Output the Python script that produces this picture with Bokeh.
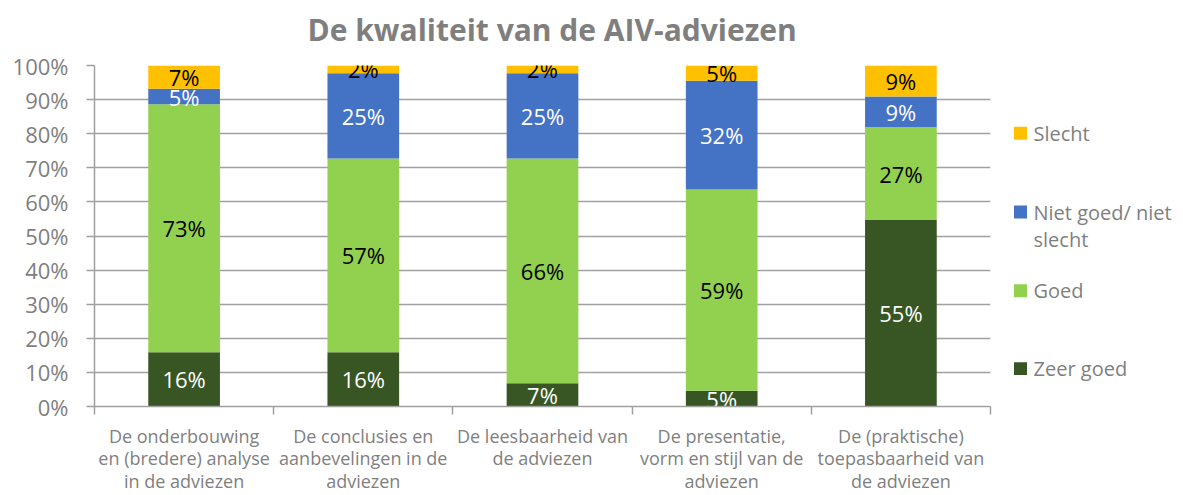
from bokeh.plotting import figure
from bokeh.models import ColumnDataSource, Range1d, FixedTicker, PrintfTickFormatter, LinearAxis
from bokeh.layouts import row
from bokeh.core.properties import value
from bokeh.embed import file_html
from bokeh.resources import INLINE

# ---- data ----
categories = [
    "De onderbouwing\nen (bredere) analyse\nin de adviezen",
    "De conclusies en\naanbevelingen in de\nadviezen",
    "De leesbaarheid van\nde adviezen",
    "De presentatie,\nvorm en stijl van de\nadviezen",
    "De (praktische)\ntoepasbaarheid van\nde adviezen",
]
zeer_goed = [15.9, 15.9, 6.8, 4.6, 54.7]
goed = [72.7, 56.8, 65.9, 59.0, 27.2]
niet_goed = [4.6, 25.0, 25.0, 31.9, 9.0]
slecht = [6.8, 2.3, 2.3, 4.5, 9.1]
y_ticks = [0, 10, 20, 30, 40, 50, 60, 70, 80, 90, 100]
legend_labels = ["Slecht", "Niet goed/ niet\nslecht", "Goed", "Zeer goed"]
title_text = "De kwaliteit van de AIV-adviezen"

colors = ["#375623", "#92D050", "#4472C4", "#FFC000"]
legend_colors = ["#FFC000", "#4472C4", "#92D050", "#375623"]
label_colors = ["white", "black", "white", "black"]
FONT = "Open Sans"
GRAY = "#7f7f7f"
LINE = "#a0a0a0"

# ---- layout geometry (pixels) ----
W_MAIN, W_LEG, H = 993, 190, 495
F_LEFT, F_RIGHT, F_TOP, F_BOTTOM = 94, 990, 65, 407

series = [zeer_goed, goed, niet_goed, slecht]
keys = ["zeer", "goed", "niet", "slecht"]
xs = [i + 0.5 for i in range(len(categories))]

src = ColumnDataSource(dict(x=xs, zeer=zeer_goed, goed=goed, niet=niet_goed, slecht=slecht))

p = figure(width=W_MAIN, height=H, x_range=Range1d(0, len(categories)), y_range=Range1d(0, 100),
           output_backend="svg", toolbar_location=None,
           min_border_left=F_LEFT, min_border_right=W_MAIN - F_RIGHT,
           min_border_top=F_TOP, min_border_bottom=H - F_BOTTOM)
p.outline_line_color = None

p.title.text = title_text
p.title.text_font = FONT
p.title.text_font_size = "30px"
p.title.text_font_style = "bold"
p.title.text_color = GRAY
p.title.align = "left"
p.title.offset = 213
p.title.vertical_align = "bottom"
p.title.standoff = 0

p.vbar_stack(keys, x="x", width=0.4, source=src, color=colors, line_color=None)

# data labels
lx, ly, lt, lc = [], [], [], []
for i in range(len(categories)):
    base = 0.0
    for s, v in enumerate(series):
        val = v[i]
        lx.append(xs[i])
        ly.append(base + val / 2)
        lt.append("%d%%" % int(val + 0.5))
        lc.append(label_colors[s])
        base += val
p.text(x=lx, y=ly, text=lt, text_color=lc, text_align="center", text_baseline="middle",
       text_font=value(FONT), text_font_size="22px")

# y axis
yax = p.left[0]
yax.ticker = FixedTicker(ticks=y_ticks)
yax.formatter = PrintfTickFormatter(format="%d%%")
yax.major_label_text_font = FONT
yax.major_label_text_font_size = "22px"
yax.major_label_text_color = GRAY
yax.major_tick_out = 8
yax.major_tick_in = 0
yax.minor_tick_out = 0
yax.minor_tick_in = 0
yax.axis_line_color = LINE
yax.axis_line_width = 1.5
yax.major_tick_line_color = LINE
yax.major_tick_line_width = 1.5
yax.major_label_standoff = 18

# x axis (labels at category centres, ticks at category boundaries)
xax = p.below[0]
xax.ticker = FixedTicker(ticks=xs, minor_ticks=list(range(len(categories) + 1)))
xax.major_label_overrides = {xs[i]: categories[i] for i in range(len(categories))}
xax.major_label_text_font = FONT
xax.major_label_text_font_size = "18px"
xax.major_label_text_color = GRAY
xax.major_label_text_line_height = 0.94
xax.major_label_standoff = 9
xax.major_tick_out = 0
xax.major_tick_in = 0
xax.minor_tick_out = 8
xax.minor_tick_in = 0
xax.minor_tick_line_color = LINE
xax.minor_tick_line_width = 1.5
xax.axis_line_color = LINE
xax.axis_line_width = 1.5

# blank spacer axis between the title and the plot area
spacer = LinearAxis(ticker=FixedTicker(ticks=[xs[2]], minor_ticks=[]), major_tick_out=16, major_tick_in=0,
                    minor_tick_out=0, minor_tick_in=0, major_label_standoff=0,
                    major_label_overrides={xs[2]: ""}, major_label_text_font_size="1px",
                    axis_line_color=None, major_tick_line_color=None, minor_tick_line_color=None)
p.add_layout(spacer, "above")

p.xgrid.visible = False
p.ygrid.grid_line_color = LINE
p.ygrid.grid_line_width = 1.5

# legend figure (data units = page pixels)
leg_y = [133, 212, 291, 369]
q = figure(width=W_LEG, height=H, x_range=Range1d(W_MAIN, W_MAIN + W_LEG),
           y_range=Range1d(F_BOTTOM, F_TOP),
           output_backend="svg", toolbar_location=None,
           min_border_left=0, min_border_right=0,
           min_border_top=F_TOP, min_border_bottom=H - F_BOTTOM)
q.axis.visible = False
q.grid.visible = False
q.outline_line_color = None
q.rect(x=[1020] * 4, y=leg_y, width=13, height=13, color=legend_colors, line_color=None)
tx, ty, tt = [], [], []
for lab, yy in zip(legend_labels, leg_y):
    for k, line in enumerate(lab.split("\n")):
        tx.append(1033)
        ty.append(yy + 28 * k)
        tt.append(line)
q.text(x=tx, y=ty, text=tt, text_color=GRAY, text_align="left", text_baseline="middle",
       text_font=value(FONT), text_font_size="20px")

layout = row(p, q)
open("out.html", "w").write(file_html(layout, INLINE))
